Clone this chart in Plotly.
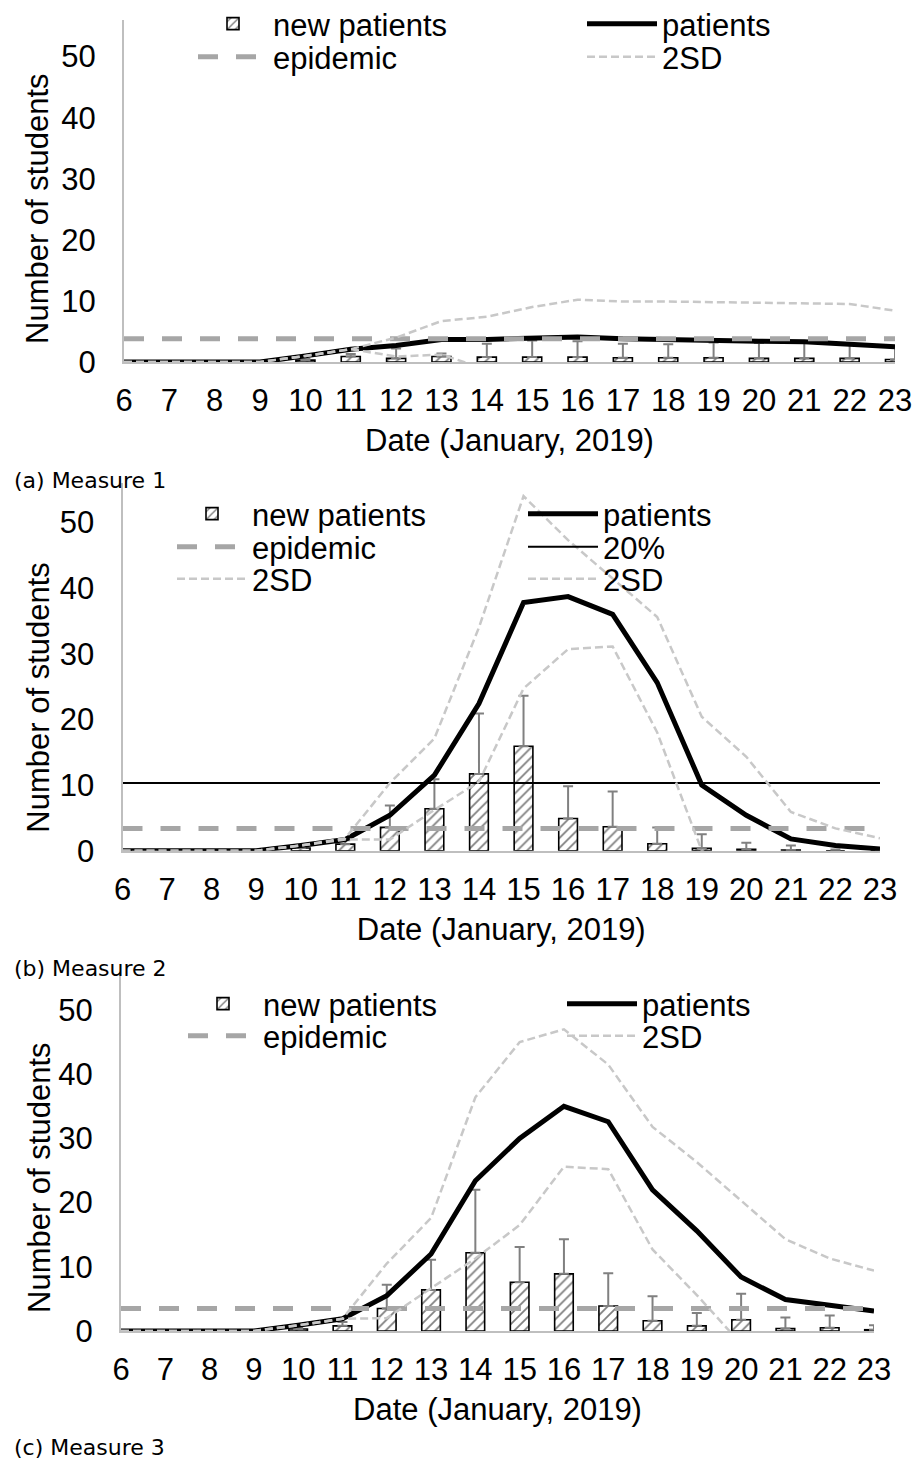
import plotly.graph_objects as go

# ---------------- data ----------------
dates = [6, 7, 8, 9, 10, 11, 12, 13, 14, 15, 16, 17, 18, 19, 20, 21, 22, 23]
date_labels = ["6", "7", "8", "9", "10", "11", "12", "13", "14", "15",
               "16", "17", "18", "19", "20", "21", "22", "23"]
y_ticks = [0, 10, 20, 30, 40, 50]

# Measure 1
m1_new = [0, 0, 0, 0, 0.3, 0.9, 0.6, 0.9, 0.8, 0.8, 0.8, 0.7, 0.7, 0.7, 0.6, 0.6, 0.6, 0.4]
m1_new_err = [0, 0, 0, 0, 0.2, 0.4, 1.6, 0.5, 2.2, 2.7, 2.6, 2.3, 2.2, 2.5, 2.5, 2.6, 2.3, 1.9]
m1_patients = [0, 0, 0, 0, 1.0, 2.1, 2.7, 3.7, 3.7, 3.8, 4.1, 3.8, 3.6, 3.6, 3.4, 3.3, 3.0, 2.5]
m1_epidemic = [3.8, 3.8, 3.8, 3.8, 3.8, 3.8, 3.8, 3.8, 3.8, 3.8, 3.8, 3.8, 3.8, 3.8, 3.8, 3.8, 3.8, 3.8]
m1_2sd_upper = [0, 0, 0, 0, 1.0, 2.1, 4.0, 6.7, 7.4, 9.0, 10.2, 9.9, 9.9, 9.8, 9.7, 9.6, 9.5, 8.4]
m1_2sd_lower = [0, 0, 0, 0, 1.0, 2.1, 0.9, 1.2, -1.2, -2.5, -2.8, -2.6, -2.4, -2.3, -2.2, -2.2, -2.4, -2.2]

# Measure 2
m2_new = [0, 0, 0, 0, 0.4, 1.0, 3.55, 6.4, 11.7, 15.9, 4.9, 3.65, 1.05, 0.35, 0.2, 0.1, 0, 0]
m2_new_err = [0, 0, 0, 0, 0.2, 0.6, 3.35, 4.5, 9.2, 7.7, 4.9, 5.35, 2.5, 2.15, 1.0, 0.7, 0.2, 0]
m2_patients = [0, 0, 0, 0, 0.8, 1.7, 5.4, 11.5, 22.4, 37.8, 38.7, 36.0, 25.6, 10.0, 5.4, 1.8, 0.8, 0.25]
m2_epidemic = [3.4, 3.4, 3.4, 3.4, 3.4, 3.4, 3.4, 3.4, 3.4, 3.4, 3.4, 3.4, 3.4, 3.4, 3.4, 3.4, 3.4, 3.4]
m2_20pct = [10.3, 10.3, 10.3, 10.3, 10.3, 10.3, 10.3, 10.3, 10.3, 10.3, 10.3, 10.3, 10.3, 10.3, 10.3, 10.3, 10.3, 10.3]
m2_2sd_upper = [0, 0, 0, 0, 0.8, 1.9, 10.3, 17.1, 34.0, 54.0, 47.3, 41.5, 35.6, 20.4, 14.3, 5.9, 3.4, 1.9]
m2_2sd_lower = [0, 0, 0, 0, 0.8, 1.7, 1.7, 6.2, 10.5, 24.7, 30.7, 31.1, 18.0, 0.0, -4.0, -5.0, -5.0, -5.0]

# Measure 3
m3_new = [0, 0, 0, 0, 0.3, 0.8, 3.5, 6.4, 12.2, 7.6, 8.9, 3.9, 1.6, 0.8, 1.75, 0.4, 0.5, 0.2]
m3_new_err = [0, 0, 0, 0, 0.2, 0.6, 3.7, 4.7, 9.8, 5.5, 5.4, 5.1, 3.8, 2.0, 4.05, 1.7, 1.9, 0.7]
m3_patients = [0, 0, 0, 0, 0.9, 1.9, 5.5, 12.0, 23.4, 30.0, 35.0, 32.6, 22.0, 15.6, 8.4, 4.9, 4.0, 3.1]
m3_epidemic = [3.5, 3.5, 3.5, 3.5, 3.5, 3.5, 3.5, 3.5, 3.5, 3.5, 3.5, 3.5, 3.5, 3.5, 3.5, 3.5, 3.5, 3.5]
m3_2sd_upper = [0, 0, 0, 0, 0.9, 1.9, 10.5, 17.6, 36.4, 45.0, 47.0, 41.5, 31.8, 26.3, 20.3, 14.3, 11.3, 9.4]
m3_2sd_lower = [0, 0, 0, 0, 0.9, 1.9, 2.0, 6.7, 11.3, 16.5, 25.6, 25.2, 12.7, 5.6, -2.0, -5.0, -6.0, -6.0]

captions = ["(a) Measure 1", "(b) Measure 2", "(c) Measure 3"]

# ---------------- geometry ----------------
W, H = 913, 1461
FONT = "Liberation Sans, Arial, sans-serif"
FS = 31


def fx(v):
    return v / W


def fy(v):
    return 1 - v / H


panels = [
    dict(new=m1_new, err=m1_new_err, pat=m1_patients, epi=m1_epidemic, pct=None,
         up=m1_2sd_upper, lo=m1_2sd_lower, x0=124, x1=895, top=20, bot=362,
         cols=(193, 582), rows=(24, 57), cap_y=481, ytitle_x=37),
    dict(new=m2_new, err=m2_new_err, pat=m2_patients, epi=m2_epidemic, pct=m2_20pct,
         up=m2_2sd_upper, lo=m2_2sd_lower, x0=122.5, x1=880, top=483, bot=850.7,
         cols=(172, 523), rows=(514, 547, 579), cap_y=968, ytitle_x=39),
    dict(new=m3_new, err=m3_new_err, pat=m3_patients, epi=m3_epidemic, pct=None,
         up=m3_2sd_upper, lo=m3_2sd_lower, x0=121, x1=874, top=971.5, bot=1331,
         cols=(183, 562), rows=(1004, 1036), cap_y=1447, ytitle_x=39),
]

fig = go.Figure()
layout = dict(width=W, height=H, margin=dict(l=0, r=0, t=0, b=0, autoexpand=False),
              paper_bgcolor="white", plot_bgcolor="white",
              font=dict(family=FONT, size=FS, color="black"),
              barmode="overlay", showlegend=True, annotations=[])

leg_idx = [0]


def new_legend(x_ref, y_ref):
    leg_idx[0] += 1
    name = "legend" if leg_idx[0] == 1 else f"legend{leg_idx[0]}"
    layout[name] = dict(
        x=fx(x_ref), y=fy(y_ref), xanchor="left", yanchor="middle",
        orientation="v", bgcolor="rgba(0,0,0,0)", borderwidth=0,
        itemwidth=70, tracegroupgap=0,
        font=dict(size=FS, family=FONT, color="black"),
    )
    return name


for i, p in enumerate(panels):
    n = i + 1
    xa = "x" if n == 1 else f"x{n}"
    ya = "y" if n == 1 else f"y{n}"
    c1, c2 = p["cols"]
    rows = p["rows"]

    fig.add_trace(go.Bar(
        x=dates, y=p["new"], name="new patients", xaxis=xa, yaxis=ya,
        width=0.42, legend=new_legend(c1, rows[0]),
        marker=dict(color="white", line=dict(color="black", width=1.6),
                    pattern=dict(shape="/", fgcolor="black", bgcolor="white",
                                 size=7, solidity=0.25)),
        error_y=dict(type="data", array=p["err"],
                     arrayminus=[0] * len(p["err"]), symmetric=False,
                     color="#808080", thickness=2, width=5),
    ))
    fig.add_trace(go.Scatter(
        x=dates, y=p["pat"], name="patients", mode="lines", xaxis=xa, yaxis=ya,
        legend=new_legend(c2, rows[0]),
        line=dict(color="black", width=5),
    ))
    fig.add_trace(go.Scatter(
        x=dates, y=p["epi"], name="epidemic", mode="lines", xaxis=xa, yaxis=ya,
        legend=new_legend(c1, rows[1]),
        line=dict(color="#A6A6A6", width=5, dash="20px,18px"),
    ))
    if p["pct"] is not None:
        fig.add_trace(go.Scatter(
            x=dates, y=p["pct"], name="20%", mode="lines", xaxis=xa, yaxis=ya,
            legend=new_legend(c2, rows[1]),
            line=dict(color="black", width=2),
        ))
        fig.add_trace(go.Scatter(
            x=dates, y=p["up"], name="2SD", mode="lines", xaxis=xa, yaxis=ya,
            legend=new_legend(c1, rows[2]),
            line=dict(color="#C8C8C8", width=2.5, dash="8px,4px"),
        ))
        fig.add_trace(go.Scatter(
            x=dates, y=p["lo"], name="2SD", mode="lines", xaxis=xa, yaxis=ya,
            legend=new_legend(c2, rows[2]),
            line=dict(color="#C8C8C8", width=2.5, dash="8px,4px"),
        ))
    else:
        fig.add_trace(go.Scatter(
            x=dates, y=p["up"], name="2SD", mode="lines", xaxis=xa, yaxis=ya,
            legend=new_legend(c2, rows[1]),
            line=dict(color="#C8C8C8", width=2.5, dash="8px,4px"),
        ))
        fig.add_trace(go.Scatter(
            x=dates, y=p["lo"], name="2SD", mode="lines", xaxis=xa, yaxis=ya,
            showlegend=False,
            line=dict(color="#C8C8C8", width=2.5, dash="8px,4px"),
        ))

    xkey = "xaxis" if n == 1 else f"xaxis{n}"
    ykey = "yaxis" if n == 1 else f"yaxis{n}"
    layout[xkey] = dict(
        domain=[fx(p["x0"]), fx(p["x1"])], anchor=ya, range=[6, 23],
        tickmode="array", tickvals=dates, ticktext=date_labels,
        showgrid=False, zeroline=False, showline=True, linecolor="#BFBFBF",
        linewidth=2, ticks="", ticklabelstandoff=10, automargin=False,
        ticklabeloverflow="allow",
        tickfont=dict(size=FS, family=FONT, color="black"),
        title=dict(text="Date (January, 2019)", standoff=12,
                   font=dict(size=FS, family=FONT, color="black")),
    )
    layout[ykey] = dict(
        domain=[fy(p["bot"]), fy(p["top"])], anchor=xa, range=[0, 56],
        tickmode="array", tickvals=y_ticks,
        showgrid=False, zeroline=False, showline=True, linecolor="#BFBFBF",
        linewidth=2, ticks="", ticklabelstandoff=20, automargin=False,
        tickfont=dict(size=FS, family=FONT, color="black"),
    )
    # y-axis title, placed as in the reference (a little below the plot centre)
    layout["annotations"].append(dict(
        text="Number of students", xref="paper", yref="paper",
        x=fx(p["ytitle_x"]), y=fy(p["bot"] - 153), xanchor="center", yanchor="middle",
        textangle=-90, showarrow=False,
        font=dict(size=FS, family=FONT, color="black"),
    ))
    layout["annotations"].append(dict(
        text=captions[i], xref="paper", yref="paper", x=fx(12), y=fy(p["cap_y"]),
        xanchor="left", yanchor="middle", showarrow=False,
        font=dict(size=22, family="DejaVu Sans, sans-serif", color="black"),
    ))

fig.update_layout(**layout)
# the page body has a default 8px margin; remove it so the 913x1461 figure fits the window
fig.write_html("out.html", config={"displayModeBar": False},
               post_script="document.body.style.margin='0px';")
